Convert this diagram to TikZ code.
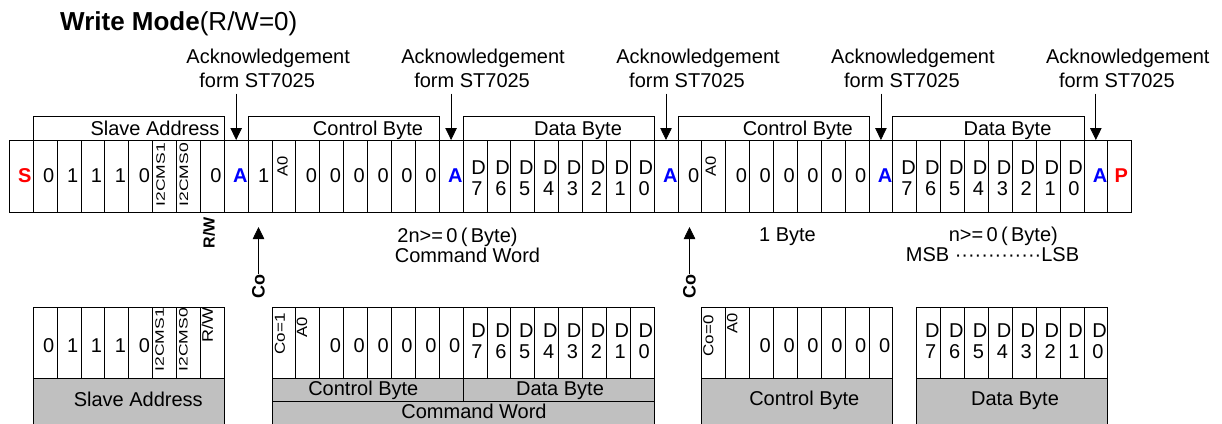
\documentclass[tikz,border=0pt]{standalone}
\usepackage{fontspec}
\setmainfont{Liberation Sans}
\usepackage{graphicx}
\usetikzlibrary{arrows.meta,calc}
\definecolor{boxgray}{RGB}{192,192,192}
\definecolor{ackblue}{RGB}{0,0,255}
\definecolor{sred}{RGB}{255,0,0}
\newcommand{\sq}[2]{\scalebox{1}[#1]{#2}}
\begin{document}
\begin{tikzpicture}[x=1pt,y=-1pt,
 cell/.style={draw,line width=0.8pt,minimum width=23.88pt,minimum height=72pt,inner sep=0pt,outer sep=0pt,anchor=north west},
 bcell/.style={cell,minimum height=71pt},
 dig/.style={font=\fontsize{20}{21.5}\selectfont,inner sep=0pt,anchor=east,align=left},
 boldl/.style={font=\fontsize{20}{21.5}\selectfont\bfseries,inner sep=0pt,anchor=east},
 rot/.style={rotate=90,inner sep=0pt,anchor=north east,font=\fontsize{16.5}{16.5}\selectfont},
 rotc/.style={rot,font=\fontsize{17.5}{17.5}\selectfont},
 txt/.style={font=\fontsize{20}{24}\selectfont,inner sep=0pt,anchor=base},
 lbox/.style={draw,line width=0.8pt,minimum height=23.3pt,minimum width=191.04pt,inner sep=0pt,outer sep=0pt,anchor=south west},
 gbox/.style={draw,fill=boxgray,line width=0.8pt,inner sep=0pt,outer sep=0pt,anchor=north west},
 arr/.style={line width=0.8pt,-{Triangle[length=12pt,width=11.5pt]}},
]
\path[use as bounding box] (0,0) rectangle (1222,423);

% title
\node[anchor=base west,inner sep=0pt,font=\fontsize{26}{26}\selectfont] (title) at (60,30.7) {\textbf{Write Mode}(R/W=0)};

% top row cells
\foreach \i in {0,...,46}{
  \node[cell] (c\i) at ({9.3+\i*23.88},140) {};
}
\foreach \i/\t in {1/0,2/1,3/1,4/1,5/0,8/0,10/1,12/0,13/0,14/0,15/0,16/0,17/0,28/0,30/0,31/0,32/0,33/0,34/0,35/0}{
  \node[dig] (t\i) at ($(c\i.east)+(-2.5,0)$) {\t};
}
\foreach \i/\d in {19/7,20/6,21/5,22/4,23/3,24/2,25/1,26/0,37/7,38/6,39/5,40/4,41/3,42/2,43/1,44/0}{
  \node[dig] (t\i) at ($(c\i.east)+(-0.8,2)$) {D\\\d};
}
\node[boldl,text=sred] (t0) at ($(c0.east)+(-1.5,0)$) {S};
\foreach \i in {9,18,27,36,45}{
  \node[boldl,text=ackblue] (t\i) at ($(c\i.east)+(-0.3,0)$) {A};
}
\node[boldl,text=sred] (t46) at ($(c46.east)+(-3.5,0)$) {P};
\node[rotc] (t6) at ($(c6.north west)+(3.5,3)$) {\sq{0.7}{I2CMS1}};
\node[rotc] (t7) at ($(c7.north west)+(3,3)$) {\sq{0.7}{I2CMS0}};
\node[rot,anchor=north west] (t11) at ($(c11.north west)+(5,37)$) {\sq{0.9}{A0}};
\node[rot,anchor=north west] (t29) at ($(c29.north west)+(3.5,37)$) {\sq{0.9}{A0}};

% label boxes above
\node[lbox] (lb1) at (c1.north west) {};
\node[lbox] (lb2) at (c10.north west) {};
\node[lbox] (lb3) at (c19.north west) {};
\node[lbox] (lb4) at (c28.north west) {};
\node[lbox] (lb5) at (c37.north west) {};
\node[txt] (lt1) at (155,135) {Slave Address};
\node[txt] (lt2) at (368,135) {Control Byte};
\node[txt] (lt3) at (578,135) {Data Byte};
\node[txt] (lt4) at (797.8,135) {Control Byte};
\node[txt] (lt5) at (1007.5,135) {Data Byte};

% acknowledgements
\foreach \k/\i in {1/9,2/18,3/27,4/36,5/45}{
  \node[txt] (ka\k) at ($(c\i.north)+(32,-76.7)$) {Acknowledgement};
  \node[txt] (kb\k) at ($(c\i.north)+(21,-52.7)$) {form ST7025};
  \draw[arr] ($(kb\k.south -| c\i.north)+(0,6)$) -- (c\i.north);
}

% middle labels
\node[font=\fontsize{16}{16}\selectfont\bfseries,rotate=90,inner sep=0pt] (rw) at (209,232.5) {R/W};
\node[font=\fontsize{18}{18}\selectfont\bfseries,rotate=90,inner sep=0pt,anchor=east] (co1) at (258.5,274) {Co};
\node[font=\fontsize{18}{18}\selectfont\bfseries,rotate=90,inner sep=0pt,anchor=east] (co2) at (689.5,274) {Co};
\coordinate (tip1) at ($(c10.south)+(0,15)$);
\coordinate (tip2) at ($(c28.south)+(0,15)$);
\draw[arr] (co1.east) -- (co1.east |- tip1);
\draw[arr] (co2.east) -- (co2.east |- tip2);
\node[txt] (m1) at (457.5,242.3) {2n>=\,0\,(\,Byte)};
\node[txt] (m2) at (467.5,262) {Command Word};
\node[txt] (m3) at (787.5,241) {1 Byte};
\node[txt] (m4) at (1003.3,241.7) {n>=\,0\,(\,Byte)};
\node[txt] (m5) at (992.5,261.7) {MSB ·············LSB};

% bottom: slave address
\foreach \i in {0,...,7}{
  \node[bcell] (sa\i) at ({9.3+(1+\i)*23.88},307) {};
}
\foreach \i/\t in {0/0,1/1,2/1,3/1,4/0}{
  \node[dig] (sat\i) at ($(sa\i.east)+(-2.5,3)$) {\t};
}
\node[rotc] (sat5) at ($(sa5.north west)+(2.5,1)$) {\sq{0.7}{I2CMS1}};
\node[rotc] (sat6) at ($(sa6.north west)+(2.5,1)$) {\sq{0.7}{I2CMS0}};
\node[rot,font=\fontsize{18}{18}\selectfont] (sat7) at ($(sa7.north west)+(1.2,0.5)$) {\sq{0.85}{R/W}};
\node[gbox,minimum width=191.04pt,minimum height=48pt] (saG) at (sa0.south west) {};
\node[txt] (saL) at (138.3,406) {Slave Address};

% bottom: command word
\foreach \i in {0,...,15}{
  \node[bcell] (cw\i) at ({9.3+(11+\i)*23.88},307) {};
}
\node[rot,font=\fontsize{17}{17}\selectfont] (cwt0) at ($(cw0.north west)+(2.5,6)$) {\sq{0.85}{Co=1}};
\node[rot] (cwt1) at ($(cw1.north west)+(0.8,9.7)$) {\sq{0.9}{A0}};
\foreach \i in {2,...,7}{
  \node[dig] (cwt\i) at ($(cw\i.east)+(-2.5,3)$) {0};
}
\foreach \i/\d in {8/7,9/6,10/5,11/4,12/3,13/2,14/1,15/0}{
  \node[dig] (cwt\i) at ($(cw\i.east)+(-0.8,-1.5)$) {D\\\d};
}
\node[gbox,minimum width=191.04pt,minimum height=23pt] (cwC) at (cw0.south west) {};
\node[gbox,minimum width=191.04pt,minimum height=23pt] (cwD) at (cw8.south west) {};
\node[gbox,minimum width=382.08pt,minimum height=25pt] (cwW) at (cwC.south west) {};
\node[txt] (cwCL) at (363.3,395) {Control Byte};
\node[txt] (cwDL) at (560,395) {Data Byte};
\node[txt] (cwWL) at (474,418) {Command Word};

% bottom: control byte
\foreach \i in {0,...,7}{
  \node[bcell] (cb\i) at ({9.3+(29+\i)*23.88},307) {};
}
\node[rot,font=\fontsize{17}{17}\selectfont] (cbt0) at ($(cb0.north west)+(1.2,8)$) {\sq{0.85}{Co=0}};
\node[rot] (cbt1) at ($(cb1.north west)+(1,6)$) {\sq{0.9}{A0}};
\foreach \i in {2,...,7}{
  \node[dig] (cbt\i) at ($(cb\i.east)+(-2.5,3)$) {0};
}
\node[gbox,minimum width=191.04pt,minimum height=48pt] (cbG) at (cb0.south west) {};
\node[txt] (cbL) at (804.3,405) {Control Byte};

% bottom: data byte
\foreach \i in {0,...,7}{
  \node[bcell] (db\i) at ({9.3+(38+\i)*23.88},307) {};
}
\foreach \i/\d in {0/7,1/6,2/5,3/4,4/3,5/2,6/1,7/0}{
  \node[dig] (dbt\i) at ($(db\i.east)+(-0.8,-1.5)$) {D\\\d};
}
\node[gbox,minimum width=191.04pt,minimum height=48pt] (dbG) at (db0.south west) {};
\node[txt] (dbL) at (1015,405) {Data Byte};
\end{tikzpicture}
\end{document}
